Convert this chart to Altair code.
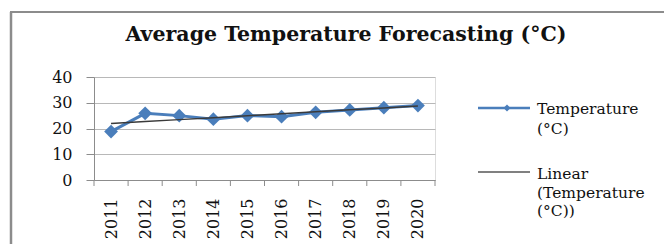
import altair as alt
import numpy as np
import pandas as pd

years = [2011, 2012, 2013, 2014, 2015, 2016, 2017, 2018, 2019, 2020]
temps = [18.8, 25.9, 25.0, 23.6, 25.0, 24.6, 26.3, 27.2, 28.1, 28.9]
y_ticks = [0, 10, 20, 30, 40]
title_text = "Average Temperature Forecasting (°C)"
legend_series = ["Temperature", "(°C)"]
legend_trend = ["Linear", "(Temperature", "(°C))"]

BLUE = "#4a7ebb"
TREND = "#3a3a3a"
SERIF = "DejaVu Serif"

W, H = 341, 103

coef = np.polyfit(np.arange(len(years)), temps, 1)
trend = list(np.polyval(coef, np.arange(len(years))))

df = pd.DataFrame({"year": years, "temp": temps, "trend": trend})
bounds = pd.DataFrame({"b": [y - 0.5 for y in years] + [years[-1] + 0.5]})
one = pd.DataFrame({"k": [0]})

xscale = alt.Scale(domain=[years[0] - 0.5, years[-1] + 0.5], nice=False, zero=False)
yscale = alt.Scale(domain=[0, 40], nice=False)

xaxis = alt.Axis(values=years, format="d", labelAngle=-90, labelAlign="right",
                 labelBaseline="middle", tickSize=0, labelPadding=18, grid=False,
                 labelOverlap=False, labelFlush=False,
                 domainColor="#8c8c8c", labelFont=SERIF, labelFontSize=16,
                 labelColor="#111", title=None)
yaxis = alt.Axis(values=y_ticks, tickSize=8, tickColor="#8c8c8c", labelPadding=14,
                 grid=True, gridColor="#b8b8b8", domainColor="#8c8c8c",
                 labelOverlap=False, labelFlush=False,
                 labelFont=SERIF, labelFontSize=16, labelColor="#111", title=None)

X = alt.X("year:Q", scale=xscale, axis=xaxis)
Y = alt.Y("temp:Q", scale=yscale, axis=yaxis)
YT = alt.Y("trend:Q", scale=yscale, axis=yaxis)
XB = alt.X("b:Q", scale=xscale, axis=xaxis)

line = alt.Chart(df).mark_line(color=BLUE, strokeWidth=3).encode(x=X, y=Y)
pts = alt.Chart(df).mark_point(shape="diamond", filled=True, size=190, color=BLUE, opacity=1).encode(x=X, y=Y)
trend_line = alt.Chart(df).mark_line(color=TREND, strokeWidth=1.5).encode(x=X, y=YT)
ticks = alt.Chart(bounds).mark_rule(color="#8c8c8c").encode(
    x=XB, y=alt.value(H), y2=alt.value(H + 6)
)

title = alt.Chart(one).mark_text(font=SERIF, fontSize=20.5, fontWeight="bold", color="#111",
                                 align="center", baseline="middle").encode(
    x=alt.value(252), y=alt.value(-42), text=alt.value(title_text))

frame_l = alt.Chart(one).mark_rule(color="#8c8c8c", strokeWidth=2.5).encode(
    x=alt.value(-83), y=alt.value(-65), y2=alt.value(170))
frame_t = alt.Chart(one).mark_rule(color="#8c8c8c", strokeWidth=2).encode(
    x=alt.value(-84), x2=alt.value(580), y=alt.value(-65))

leg1_line = alt.Chart(one).mark_rule(color=BLUE, strokeWidth=2.5).encode(
    x=alt.value(384), x2=alt.value(436), y=alt.value(31))
leg1_pt = alt.Chart(one).mark_point(shape="diamond", filled=True, size=50, color=BLUE, opacity=1).encode(
    x=alt.value(413), y=alt.value(31))
leg2_line = alt.Chart(one).mark_rule(color="#808080", strokeWidth=2).encode(
    x=alt.value(384), x2=alt.value(436), y=alt.value(95))

leg_layers = []
for i, t in enumerate(legend_series):
    leg_layers.append(alt.Chart(one).mark_text(font=SERIF, fontSize=15.5, color="#111", align="left",
                                               baseline="middle").encode(
        x=alt.value(443), y=alt.value(32 + 19.5 * i), text=alt.value(t)))
for i, t in enumerate(legend_trend):
    leg_layers.append(alt.Chart(one).mark_text(font=SERIF, fontSize=15.5, color="#111", align="left",
                                               baseline="middle").encode(
        x=alt.value(443), y=alt.value(97 + 18.7 * i), text=alt.value(t)))

chart = alt.layer(
    line, pts, trend_line, ticks, title, frame_l, frame_t, leg1_line, leg1_pt, leg2_line, *leg_layers
).properties(
    width=W, height=H,
    autosize=alt.AutoSizeParams(type="none"),
    padding={"left": 86, "top": 69, "right": 229, "bottom": 64},
).configure_view(strokeWidth=0).configure(background="white")

chart.save("out.html", embed_options={"renderer": "svg", "actions": False})
